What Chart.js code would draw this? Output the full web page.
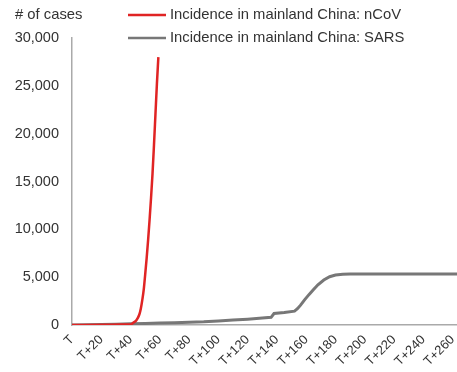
<!DOCTYPE html>
<html lang="en">
<head>
  <meta charset="UTF-8">
  <title>Incidence in mainland China: nCoV vs SARS</title>
  <script src="https://cdn.jsdelivr.net/npm/chart.js"></script>
  <style>
    html, body { margin: 0; padding: 0; background: #fff; }
    #wrap { width: 457px; height: 372px; }
  </style>
</head>
<body>
<div id="wrap"><canvas id="casesChart"></canvas></div>

<script>
  // Days since T and cumulative cases
  const ncovDays  = [0, 23, 34, 40, 42, 44, 46, 47, 48, 49, 50, 51, 52, 53, 54, 55, 56, 57, 58, 59];
  const ncovCases = [0, 27, 41, 60, 250, 500, 1100, 1700, 2600, 3700, 5300, 7000, 8900, 11000, 13300, 15800, 18800, 22000, 25200, 28000];

  const sarsDays  = [0, 10, 20, 30, 40, 50, 60, 70, 80, 90, 100, 110, 120, 130, 136, 138, 145, 152, 154, 156, 159, 162, 165, 168, 172, 176, 180, 185, 190, 200, 263];
  const sarsCases = [5, 30, 60, 90, 120, 160, 200, 240, 290, 340, 430, 520, 610, 720, 800, 1200, 1300, 1450, 1700, 2050, 2650, 3200, 3700, 4200, 4700, 5050, 5220, 5300, 5327, 5327, 5327];

  const seriesNames = ["Incidence in mainland China: nCoV", "Incidence in mainland China: SARS"];
  const seriesColors = ["#e02424", "#777777"];
  const yTitle = "# of cases";

  const toPoints = (xs, ys) => xs.map((x, i) => ({ x: x, y: ys[i] }));

  // draws the "# of cases" title and the legend at the top
  const headerPlugin = {
    id: "header",
    afterDraw(chart) {
      const ctx = chart.ctx;
      ctx.save();
      ctx.font = "14.8px 'Liberation Sans', Arial, sans-serif";
      ctx.fillStyle = "#333";
      ctx.textBaseline = "middle";
      ctx.textAlign = "left";
      ctx.fillText(yTitle, 15, 15);
      seriesNames.forEach((name, i) => {
        const y = 15 + i * 23;
        ctx.strokeStyle = seriesColors[i];
        ctx.lineWidth = 2.5;
        ctx.beginPath();
        ctx.moveTo(128, y);
        ctx.lineTo(166, y);
        ctx.stroke();
        ctx.fillText(name, 170, y);
      });
      ctx.restore();
    }
  };

  new Chart(document.getElementById("casesChart"), {
    type: "line",
    data: {
      datasets: [
        {
          label: seriesNames[0],
          data: toPoints(ncovDays, ncovCases),
          borderColor: seriesColors[0],
          borderWidth: 2.5,
          pointRadius: 0,
          cubicInterpolationMode: "monotone",
          fill: false
        },
        {
          label: seriesNames[1],
          data: toPoints(sarsDays, sarsCases),
          borderColor: seriesColors[1],
          borderWidth: 3,
          pointRadius: 0,
          tension: 0,
          fill: false
        }
      ]
    },
    options: {
      responsive: true,
      maintainAspectRatio: false,
      animation: false,
      layout: { padding: { top: 38, right: 0, bottom: 0, left: 0 } },
      plugins: { legend: { display: false }, tooltip: { enabled: false } },
      scales: {
        x: {
          type: "linear",
          min: 0,
          max: 263,
          grid: { display: false, drawTicks: true, tickLength: 5, tickColor: "#aaa" },
          border: { color: "#aaa", width: 1.5 },
          afterFit: (scale) => { scale.height = 47; scale.paddingRight = 0; },
          ticks: {
            stepSize: 20,
            includeBounds: false,
            minRotation: 45,
            maxRotation: 45,
            padding: 2,
            color: "#333",
            font: { family: "'Liberation Sans', Arial, sans-serif", size: 13 },
            callback: (v) => v === 0 ? "T" : "T+" + v
          }
        },
        y: {
          min: 0,
          max: 30000,
          grid: { display: false, drawTicks: true, tickLength: 5, tickColor: "#aaa" },
          border: { color: "#aaa", width: 1.5 },
          afterFit: (scale) => { scale.width = 72; },
          ticks: {
            stepSize: 5000,
            padding: 8,
            color: "#333",
            font: { family: "'Liberation Sans', Arial, sans-serif", size: 14.5 },
            callback: (v) => v.toLocaleString("en-US")
          }
        }
      }
    },
    plugins: [headerPlugin]
  });
</script>
</body>
</html>
